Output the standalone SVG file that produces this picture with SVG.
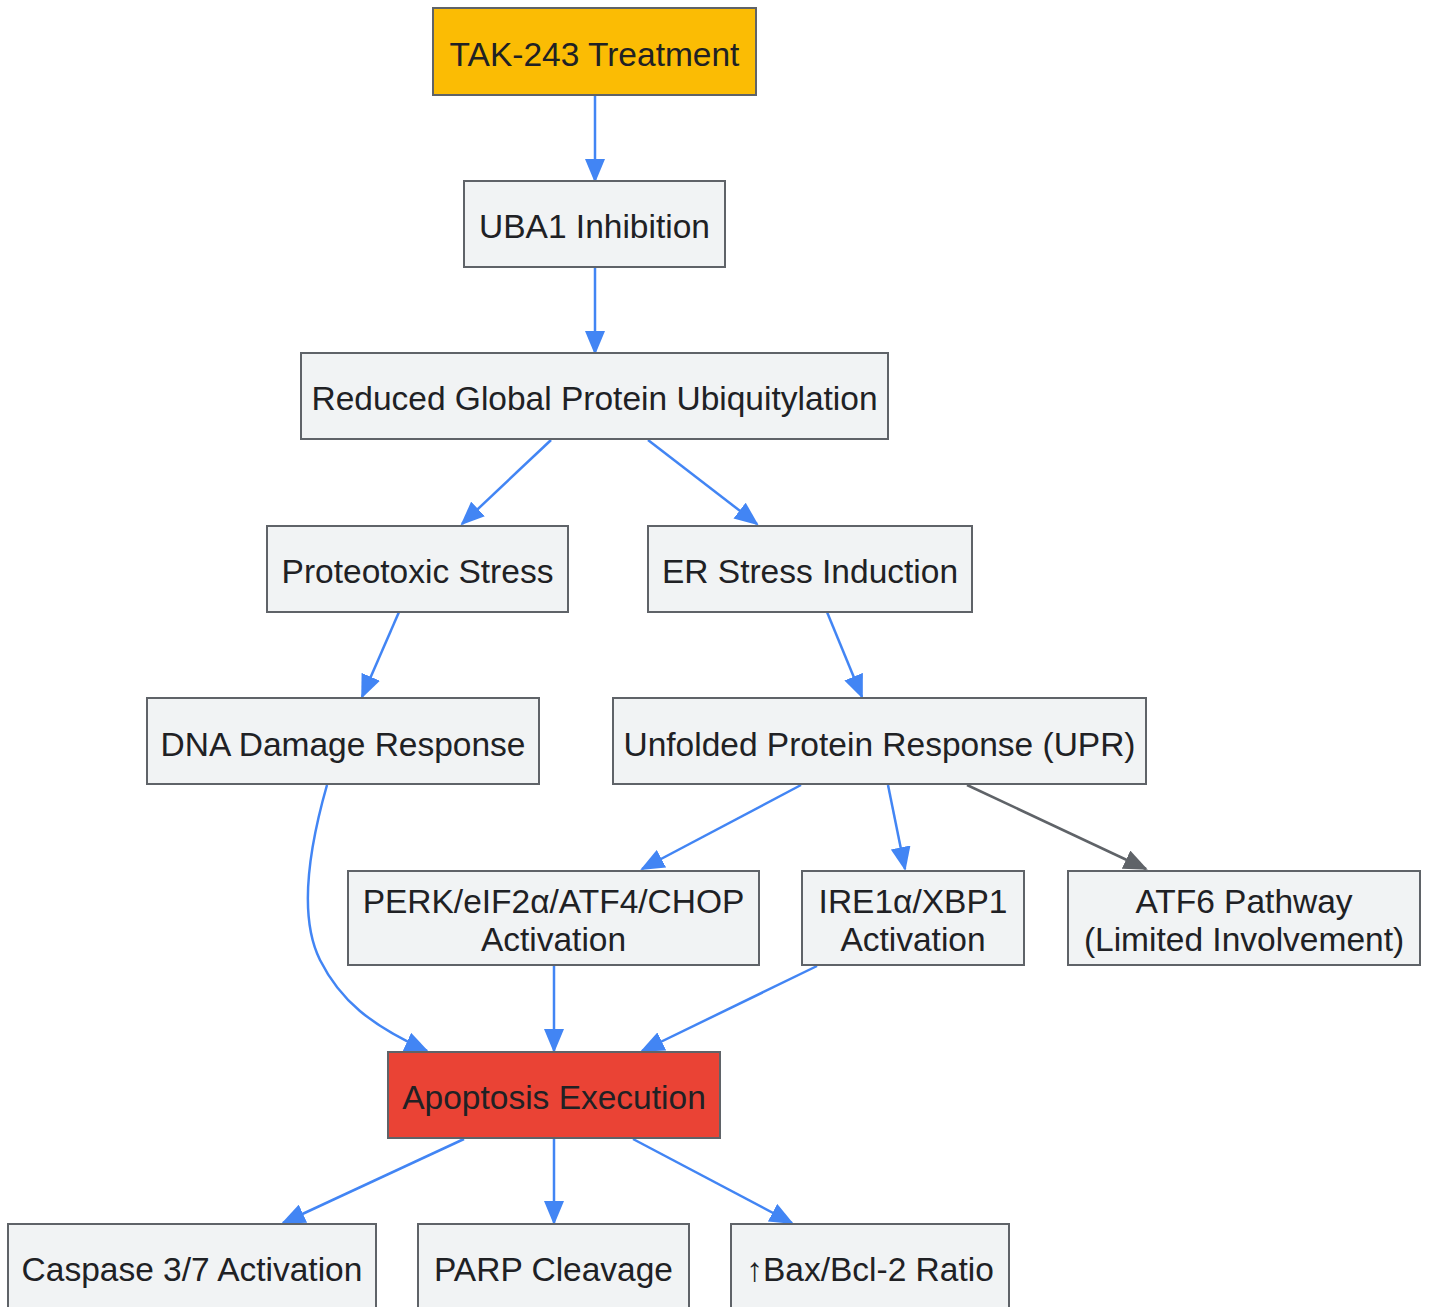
<svg xmlns="http://www.w3.org/2000/svg" width="1430" height="1307" viewBox="0 0 1430 1307">
<defs>
<style>
.n rect{fill:#f1f3f4;stroke:#5f6368;stroke-width:2}
.n text{font-family:"Liberation Sans",Arial,sans-serif;font-size:33.5px;fill:#202124;text-anchor:middle;dominant-baseline:central}
.e path{fill:none;stroke:#4285f4;stroke-width:2.5}
.e path.g{stroke:#5f6368}
</style>
<marker id="ab" viewBox="0 0 24 20" refX="22" refY="10" markerWidth="24" markerHeight="20" markerUnits="userSpaceOnUse" orient="auto"><path d="M0,0 L24,10 L0,20 z" fill="#4285f4"/></marker>
<marker id="ag" viewBox="0 0 24 20" refX="22" refY="10" markerWidth="24" markerHeight="20" markerUnits="userSpaceOnUse" orient="auto"><path d="M0,0 L24,10 L0,20 z" fill="#5f6368"/></marker>
</defs>
<rect width="1430" height="1307" fill="#ffffff"/>
<g class="e">
<path d="M595,95 L595,181" marker-end="url(#ab)"/>
<path d="M595,267 L595,353" marker-end="url(#ab)"/>
<path d="M551,440 L462,524" marker-end="url(#ab)"/>
<path d="M648,440 L757,524" marker-end="url(#ab)"/>
<path d="M399,612 L362,697" marker-end="url(#ab)"/>
<path d="M827,612 L862,697" marker-end="url(#ab)"/>
<path d="M327,785 C307,855 300,920 320,960 C340,1000 370,1025 427,1051" marker-end="url(#ab)"/>
<path d="M801,785 L642,869" marker-end="url(#ab)"/>
<path d="M888,785 L905,869" marker-end="url(#ab)"/>
<path class="g" d="M967,785 L1146,869" marker-end="url(#ag)"/>
<path d="M554,966 L554,1051" marker-end="url(#ab)"/>
<path d="M817,966 L642,1051" marker-end="url(#ab)"/>
<path d="M464,1139 L283,1223" marker-end="url(#ab)"/>
<path d="M554,1139 L554,1223" marker-end="url(#ab)"/>
<path d="M633,1139 L792,1223" marker-end="url(#ab)"/>
</g>
<g id="tak" class="n"><rect x="433" y="8" width="323" height="87" style="fill:#fbbc04"/><text x="594.5" y="54">TAK-243 Treatment</text></g>
<g id="uba1" class="n"><rect x="464" y="181" width="261" height="86"/><text x="594.5" y="226">UBA1 Inhibition</text></g>
<g id="reduced" class="n"><rect x="301" y="353" width="587" height="86"/><text x="594.5" y="398">Reduced Global Protein Ubiquitylation</text></g>
<g id="proteo" class="n"><rect x="267" y="526" width="301" height="86"/><text x="417.5" y="571">Proteotoxic Stress</text></g>
<g id="er" class="n"><rect x="648" y="526" width="324" height="86"/><text x="810" y="571">ER Stress Induction</text></g>
<g id="dna" class="n"><rect x="147" y="698" width="392" height="86"/><text x="343" y="744">DNA Damage Response</text></g>
<g id="upr" class="n"><rect x="613" y="698" width="533" height="86"/><text x="879.5" y="744">Unfolded Protein Response (UPR)</text></g>
<g id="perk" class="n"><rect x="348" y="871" width="411" height="94"/><text x="553.5" y="901">PERK/eIF2α/ATF4/CHOP</text><text x="553.5" y="939">Activation</text></g>
<g id="ire1" class="n"><rect x="802" y="871" width="222" height="94"/><text x="913" y="901">IRE1α/XBP1</text><text x="913" y="939">Activation</text></g>
<g id="atf6" class="n"><rect x="1068" y="871" width="352" height="94"/><text x="1244" y="901">ATF6 Pathway</text><text x="1244" y="939">(Limited Involvement)</text></g>
<g id="apop" class="n"><rect x="388" y="1052" width="332" height="86" style="fill:#ea4335"/><text x="554" y="1097">Apoptosis Execution</text></g>
<g id="casp" class="n"><rect x="8" y="1224" width="368" height="86"/><text x="192" y="1269">Caspase 3/7 Activation</text></g>
<g id="parp" class="n"><rect x="418" y="1224" width="271" height="86"/><text x="553.5" y="1269">PARP Cleavage</text></g>
<g id="bax" class="n"><rect x="731" y="1224" width="278" height="86"/><text x="870" y="1269">↑Bax/Bcl-2 Ratio</text></g>
</svg>
